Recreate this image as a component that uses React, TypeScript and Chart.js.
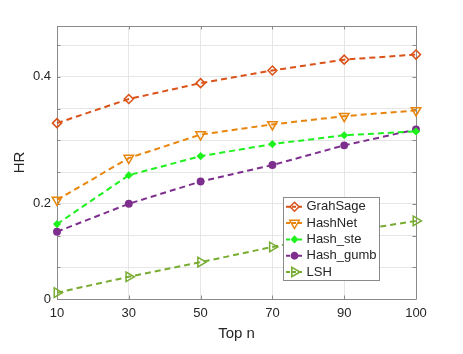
import React, { useEffect, useRef } from 'react';
import { Chart, registerables } from 'chart.js';

Chart.register(...registerables);

const categories = ['10', '30', '50', '70', '90', '100'];
const grahSage = [0.327, 0.365, 0.39, 0.41, 0.427, 0.435];
const hashNet = [0.206, 0.272, 0.309, 0.325, 0.338, 0.347];
const hashSte = [0.168, 0.245, 0.275, 0.294, 0.308, 0.314];
const hashGumb = [0.156, 0.2, 0.235, 0.261, 0.292, 0.317];
const lsh = [0.06, 0.085, 0.108, 0.132, 0.155, 0.173];
const yGridValues = [0.05, 0.1, 0.15, 0.2, 0.25, 0.3, 0.35, 0.4, 0.45];
const yLabels: Record<string, string> = { '5': '0', '20': '0.2', '40': '0.4' };

const FONT = "'Liberation Sans', Arial, Helvetica, sans-serif";
const AXIS = '#8a8a8a';
const TEXT = '#262626';

type Style = { style: string; rot: number; r: number; fill: boolean };

function drawMarker(ctx: CanvasRenderingContext2D, x: number, y: number, s: Style, color: string) {
  ctx.save();
  ctx.translate(x, y);
  ctx.rotate((s.rot * Math.PI) / 180);
  ctx.beginPath();
  const r = s.r;
  if (s.style === 'rectRot') {
    ctx.moveTo(0, -r);
    ctx.lineTo(r, 0);
    ctx.lineTo(0, r);
    ctx.lineTo(-r, 0);
    ctx.closePath();
  } else if (s.style === 'triangle') {
    ctx.moveTo(0, -r);
    ctx.lineTo(r * 0.866, r * 0.5);
    ctx.lineTo(-r * 0.866, r * 0.5);
    ctx.closePath();
  } else {
    ctx.arc(0, 0, r, 0, Math.PI * 2);
  }
  ctx.setLineDash([]);
  ctx.lineWidth = 1.5;
  ctx.strokeStyle = color;
  if (s.fill) {
    ctx.fillStyle = color;
    ctx.fill();
  }
  ctx.stroke();
  ctx.restore();
}

const styles: Style[] = [
  { style: 'rectRot', rot: 0, r: 4.5, fill: false },
  { style: 'triangle', rot: 180, r: 5.5, fill: false },
  { style: 'rectRot', rot: 0, r: 3, fill: true },
  { style: 'circle', rot: 0, r: 3.2, fill: true },
  { style: 'triangle', rot: 90, r: 5.5, fill: false },
];
const colors = ['#D95319', '#E8850C', '#1EF21E', '#7E2F8E', '#77AC30'];
const names = ['GrahSage', 'HashNet', 'Hash_ste', 'Hash_gumb', 'LSH'];
const series = [grahSage, hashNet, hashSte, hashGumb, lsh];

const framePlugin = {
  id: 'frame',
  beforeDatasetsDraw(chart: any) {
    const { ctx, chartArea: a, scales } = chart;
    ctx.save();
    ctx.strokeStyle = AXIS;
    ctx.lineWidth = 1;
    ctx.setLineDash([]);
    ctx.beginPath();
    ctx.rect(Math.round(a.left) + 0.5, Math.round(a.top) + 0.5, Math.round(a.right - a.left), Math.round(a.bottom - a.top));
    ctx.stroke();
    const tl = 3.5;
    ctx.beginPath();
    categories.forEach((_, i) => {
      const x = Math.round(scales.x.getPixelForValue(i)) + 0.5;
      ctx.moveTo(x, a.bottom);
      ctx.lineTo(x, a.bottom - tl);
      ctx.moveTo(x, a.top);
      ctx.lineTo(x, a.top + tl);
    });
    yGridValues.forEach((v) => {
      const y = Math.round(scales.y.getPixelForValue(v)) + 0.5;
      ctx.moveTo(a.left, y);
      ctx.lineTo(a.left + tl, y);
      ctx.moveTo(a.right, y);
      ctx.lineTo(a.right - tl, y);
    });
    ctx.stroke();
    ctx.restore();
  },
  afterDatasetsDraw(chart: any) {
    const { ctx } = chart;
    const bx = 283.5, by = 197.5, bw = 96, bh = 83;
    ctx.save();
    ctx.fillStyle = '#ffffff';
    ctx.fillRect(bx, by, bw, bh);
    ctx.strokeStyle = AXIS;
    ctx.lineWidth = 1;
    ctx.setLineDash([]);
    ctx.strokeRect(bx, by, bw, bh);
    ctx.font = `13px ${FONT}`;
    ctx.textBaseline = 'middle';
    ctx.textAlign = 'left';
    names.forEach((n, i) => {
      const y = 206.8 + i * 16.3;
      ctx.strokeStyle = colors[i];
      ctx.lineWidth = 2;
      ctx.setLineDash([4, 2]);
      ctx.beginPath();
      ctx.moveTo(286, y);
      ctx.lineTo(304, y);
      ctx.stroke();
      drawMarker(ctx, 294.5, y, styles[i], colors[i]);
      ctx.fillStyle = TEXT;
      ctx.fillText(n, 306.5, y);
    });
    ctx.restore();
  },
};

export default function App() {
  const ref = useRef<HTMLCanvasElement>(null);
  useEffect(() => {
    document.body.style.margin = '0';
    const chart = new Chart(ref.current!, {
      type: 'line',
      data: {
        labels: categories,
        datasets: series.map((d, i) => ({
          label: names[i],
          data: d,
          borderColor: colors[i],
          backgroundColor: colors[i],
          borderWidth: 2,
          borderDash: [6, 4],
          pointStyle: styles[i].style as any,
          rotation: styles[i].rot,
          pointRadius: styles[i].r,
          pointBorderWidth: 1.5,
          pointBackgroundColor: styles[i].fill ? colors[i] : 'rgba(255,255,255,0)',
          pointBorderColor: colors[i],
          tension: 0,
          fill: false,
          clip: false as any,
        })),
      },
      options: {
        responsive: false,
        animation: false,
        layout: { padding: { left: 0, top: 26, right: 47, bottom: 0 } },
        plugins: { legend: { display: false }, tooltip: { enabled: false } },
        scales: {
          x: {
            type: 'category',
            offset: false,
            grid: { color: '#e6e6e6', drawTicks: false, offset: false },
            border: { display: false },
            ticks: { color: TEXT, font: { family: FONT, size: 13 }, padding: 7, maxRotation: 0, autoSkip: false },
            title: { display: true, text: 'Top n', color: TEXT, font: { family: FONT, size: 15 }, padding: { top: 0, bottom: 11 } },
            afterFit: (s: any) => { s.height = 55; },
          },
          y: {
            type: 'linear',
            min: 0.05,
            max: 0.48,
            grid: { color: '#e6e6e6', drawTicks: false },
            border: { display: false },
            afterBuildTicks: (s: any) => { s.ticks = yGridValues.map((v) => ({ value: v })); },
            ticks: {
              color: TEXT,
              font: { family: FONT, size: 13 },
              padding: 6,
              callback: (v: any) => yLabels[String(Math.round(Number(v) * 100))] ?? '',
            },
            title: { display: true, text: 'HR', color: TEXT, font: { family: FONT, size: 15 }, padding: { top: 11, bottom: 0 } },
            afterFit: (s: any) => { s.width = 57; },
          },
        },
      },
      plugins: [framePlugin],
    });
    return () => chart.destroy();
  }, []);
  return <canvas ref={ref} width={463} height={354} />;
}
